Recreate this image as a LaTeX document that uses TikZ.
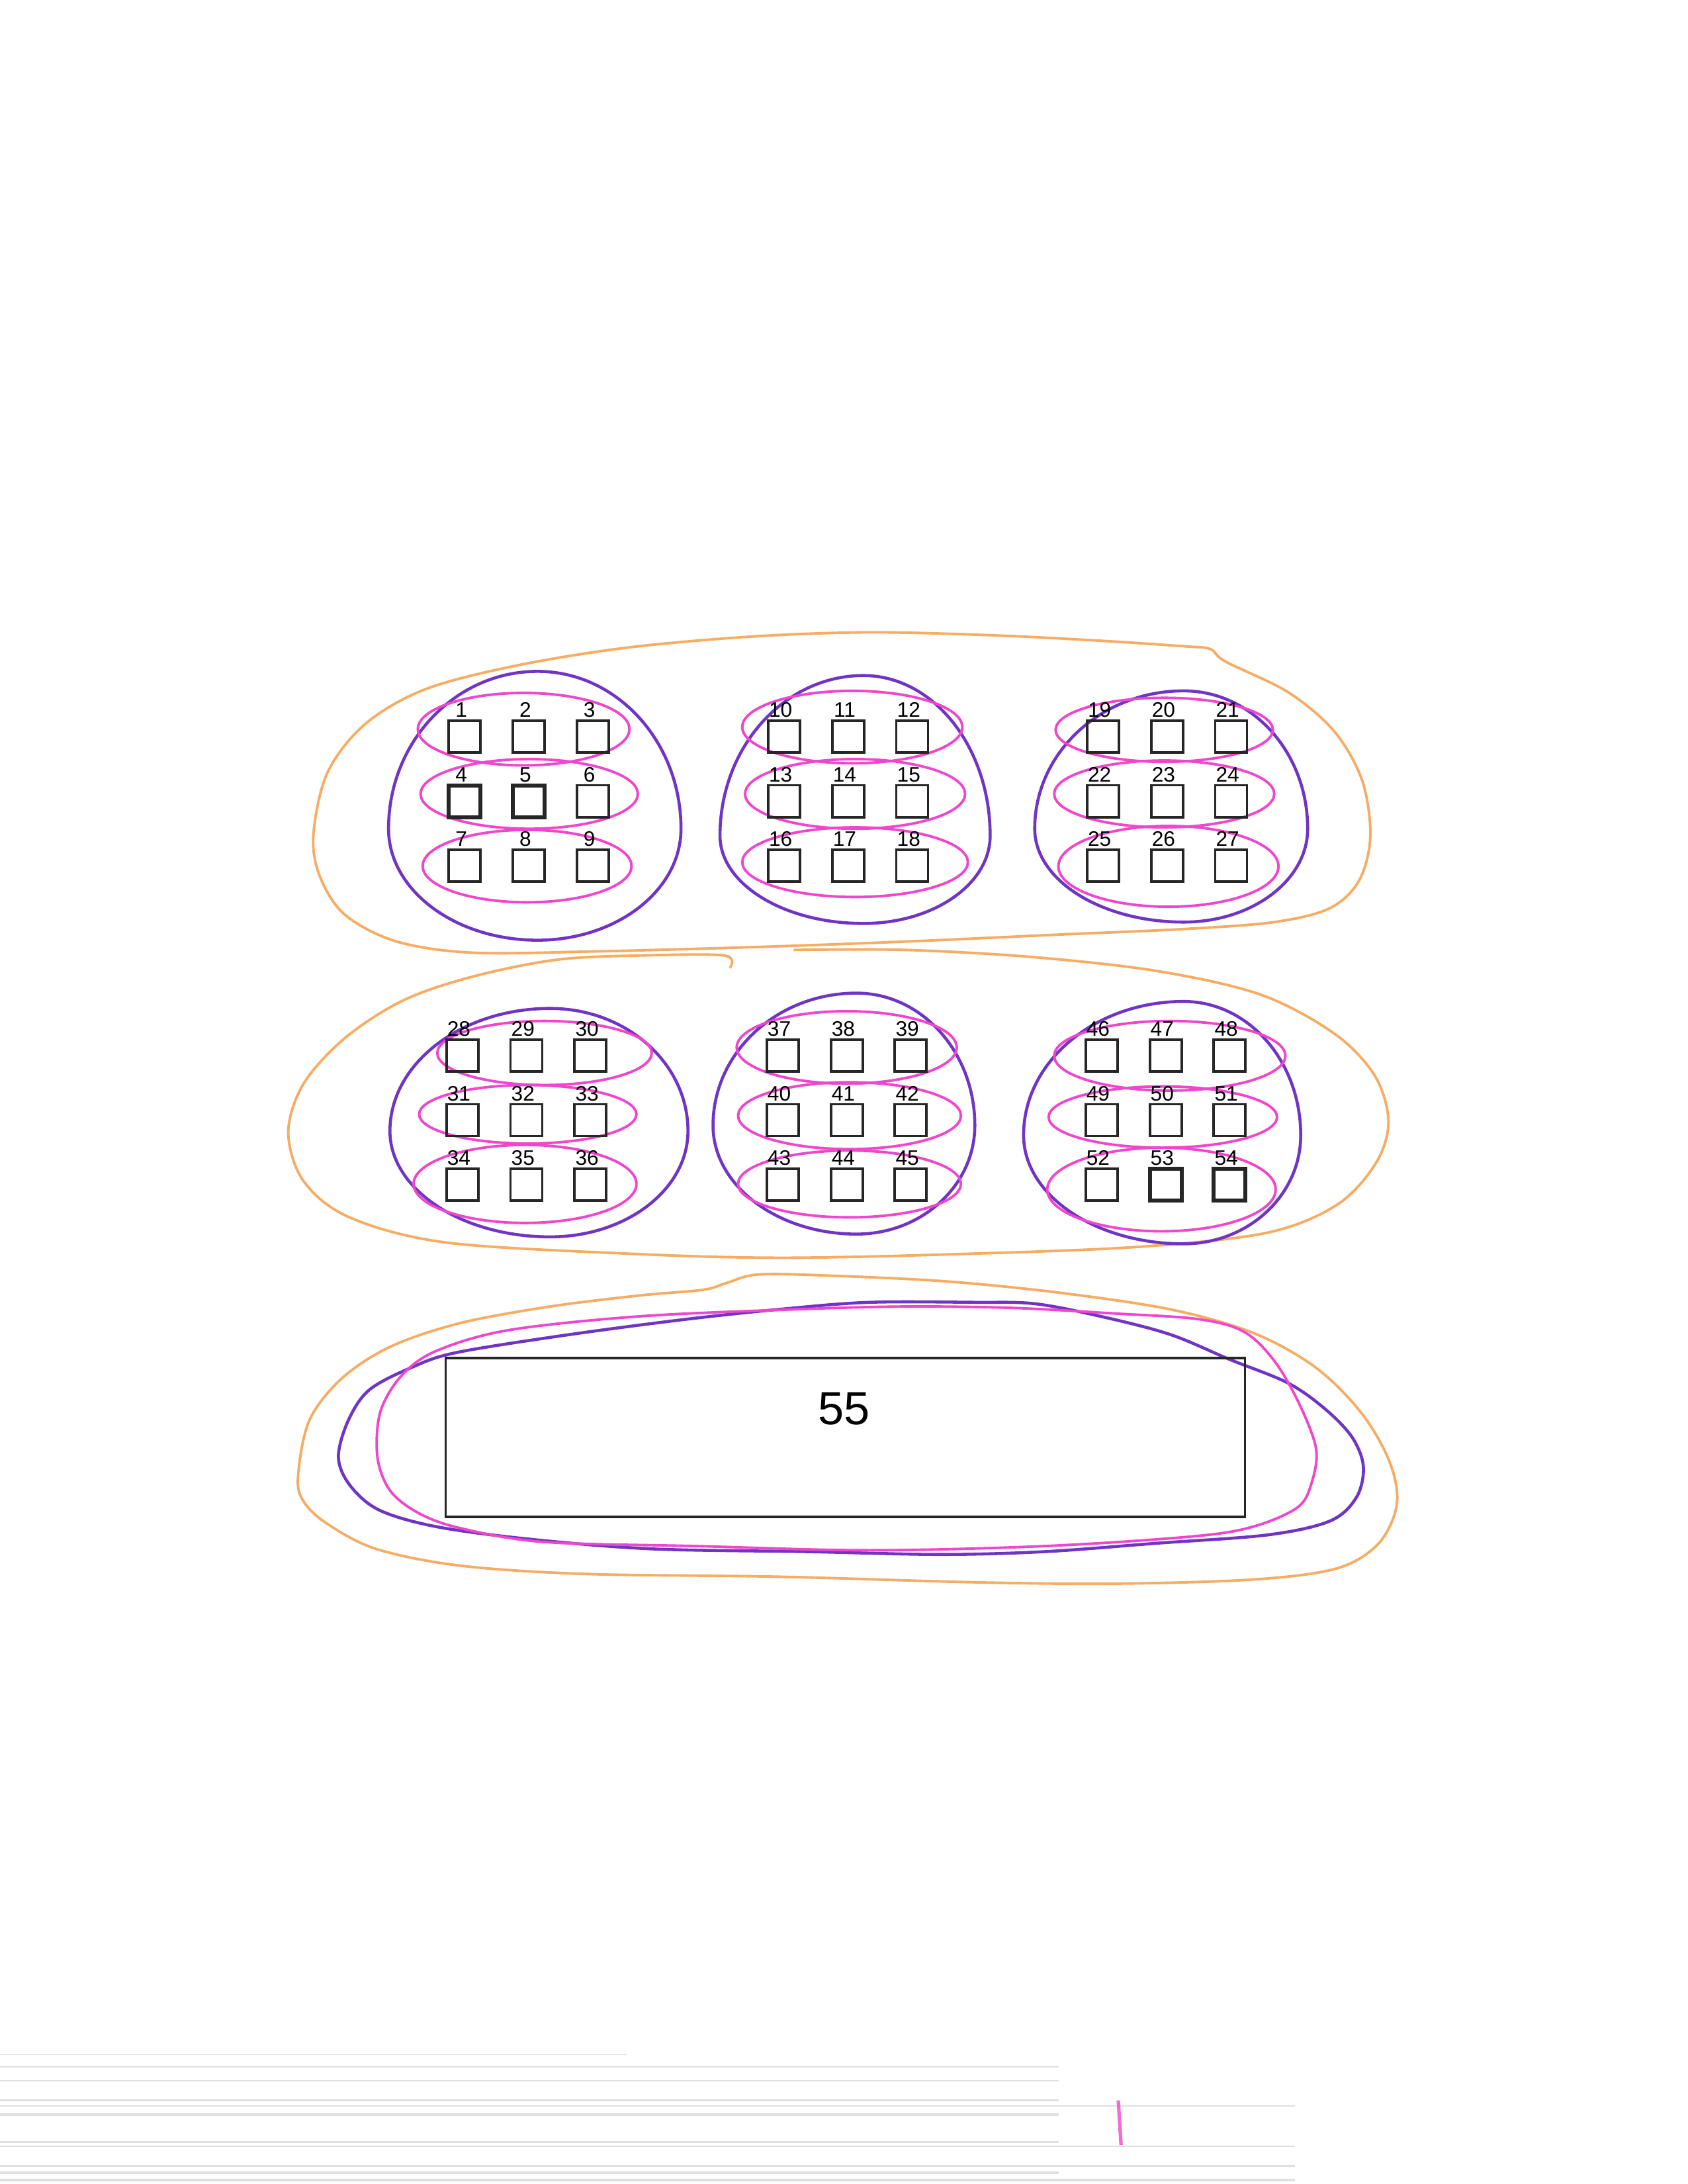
\documentclass[tikz,border=0pt]{standalone}
\usepackage{fontspec}
\setmainfont{Liberation Sans}
\definecolor{orng}{RGB}{247,172,100}
\definecolor{purp}{RGB}{112,52,196}
\definecolor{pnk}{RGB}{240,70,205}
\newcommand\eggshape[7]{%
  \draw[puline, rotate around={#7:(#1,#2)}] (#1+#4,#2)
    arc[start angle=0,end angle=90,x radius=#4,y radius=#6]
    arc[start angle=90,end angle=180,x radius=#3,y radius=#6]
    arc[start angle=180,end angle=270,x radius=#3,y radius=#5]
    arc[start angle=270,end angle=360,x radius=#4,y radius=#5];}
\begin{document}
\begin{tikzpicture}[x=0.02104cm,y=-0.02104cm,
  sq/.style={draw=black!85, line width=1.1pt, minimum size=0.48cm, inner sep=0pt},
  sqb/.style={sq, line width=1.7pt},
  lbl/.style={anchor=base, inner sep=0pt, font=\fontsize{9}{10}\selectfont},
  orline/.style={draw=orng, line width=1.1pt},
  puline/.style={draw=purp, line width=1.3pt},
  piline/.style={draw=pnk, line width=1.1pt},
  noise/.style={draw=black, opacity=0.12}]
\useasboundingbox (0,0) rectangle (1212,1568);

% orange outlines
\draw[orline] plot[smooth cycle, tension=0.55] coordinates {(225,600) (235,555) (262,520) (305,495) (370,478) (450,465) (540,457) (623,454) (710,456) (790,460) (850,464) (869,466) (880,475) (925,497) (958,525) (978,560) (984,600) (976,632) (955,652) (915,662) (850,667) (760,671) (650,676) (540,680) (430,683) (340,684) (285,676) (248,657) (230,630)};
\draw[orline] plot[smooth, tension=0.55] coordinates {(524,695) (520,686) (460,686) (400,689) (340,701) (290,718) (248,745) (218,778) (207,813) (218,848) (251,874) (320,892) (450,900) (562,903) (700,900) (820,895) (910,885) (960,865) (988,835) (997,805) (987,772) (958,742) (905,714) (830,697) (740,687) (650,682) (570,682)};
\draw[orline] plot[smooth cycle, tension=0.55] coordinates {(214,1060) (222,1020) (245,990) (280,967) (330,950) (395,938) (460,930) (505,926) (522,921) (545,915) (600,916) (680,920) (760,928) (840,940) (900,957) (945,982) (978,1015) (998,1050) (1003,1080) (990,1108) (960,1126) (900,1134) (800,1137) (700,1136) (560,1132) (420,1130) (330,1124) (270,1112) (235,1094) (218,1078)};

% purple group outlines
\eggshape{386}{595}{107}{103}{113}{80}{0}
\eggshape{620}{600}{103}{91}{115}{63}{0}
\eggshape{850}{595}{107}{89}{99}{67}{0}
\eggshape{395}{812}{115}{99}{88}{76}{0}
\eggshape{615}{808}{103}{85}{95}{78}{0}
\eggshape{850}{815}{115}{84}{96}{78}{0}
\draw[puline] plot[smooth cycle, tension=0.55] coordinates {(243,1046) (250,1020) (265,998) (295,982) (328,971) (410,958) (494,947) (560,940) (624,935) (700,935) (743,936) (790,945) (840,958) (883,976) (925,993) (952,1012) (971,1032) (979,1053) (974,1075) (955,1092) (910,1102) (830,1108) (750,1114) (675,1116) (580,1114) (468,1112) (380,1105) (313,1096) (272,1084) (251,1066)};

% pink row loops
\foreach \cx/\cy/\rx/\ry in {376/523.5/76/26, 380/570/78/25, 378.5/621.8/75/26,
  612/522/79/26, 614/570/79/25, 614/619/81/25,
  836/524/78/23, 836/570/79/24, 839/622/79/29,
  391/756/77/23, 379/800/78/21, 377/850/80/28,
  608/752/79/26, 610/801/80/24, 610/850/80/24,
  840/758/83/25, 835/802/82/22, 834/854/82/30}
  \draw[piline] (\cx,\cy) ellipse [x radius=\rx, y radius=\ry];
\draw[piline] plot[smooth cycle, tension=0.55] coordinates {(271,1046) (273,1014) (288,988) (313,970) (365,955) (460,945) (572,940) (650,938) (727,939) (800,943) (860,947) (893,956) (915,977) (933,1008) (945,1040) (942,1064) (932,1082) (900,1096) (857,1103) (750,1110) (624,1113) (500,1110) (390,1107) (330,1097) (300,1086) (280,1070)};

% squares and labels
\foreach \gx/\gy/\st in {333.7/529/1, 563/529/10, 792/529/19, 332/758/28, 562/758/37, 791/758/46} {
  \foreach \r in {0,1,2} {
    \foreach \c in {0,1,2} {
      \pgfmathtruncatemacro\n{\st+3*\r+\c}
      \ifnum\n=4 \def\sst{sqb}\else\ifnum\n=5 \def\sst{sqb}\else\ifnum\n=53 \def\sst{sqb}\else\ifnum\n=54 \def\sst{sqb}\else\def\sst{sq}\fi\fi\fi\fi
      \node[\sst] (s\n) at (\gx+46*\c, \gy+46.2*\r) {};
      \node[lbl] (l\n) at (\gx+46*\c-2.5, \gy+46.2*\r-14) {\n};
    }
  }
}

% big box
\node[draw=black!85, line width=1pt, minimum width=12.08cm, minimum height=2.4cm, inner sep=0pt] (s55) at (607,1032) {};
\node[inner sep=0pt, font=\fontsize{20}{22}\selectfont] (t55) at (606,1011.5) {55};

% scan noise at the bottom
\foreach \yy/\xa/\xb/\w in {1475/0/450/0.4pt, 1484/0/760/0.5pt, 1494/0/760/0.5pt, 1508/0/760/0.9pt, 1512/0/930/0.7pt, 1518/0/760/1pt, 1538/0/760/0.8pt, 1541/0/930/0.5pt, 1555/0/930/1pt, 1560/0/760/1.2pt, 1565/0/930/1.2pt}
  \draw[noise, line width=\w] (\xa,\yy) -- (\xb,\yy);
\draw[draw=pnk, line width=1.5pt, opacity=0.8] (803,1508) -- (805,1540);
\end{tikzpicture}
\end{document}
